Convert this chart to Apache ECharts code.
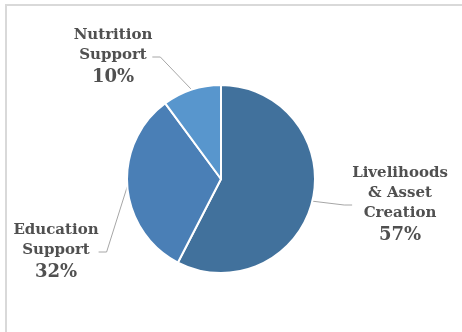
<!DOCTYPE html>
<html>
<head>
<meta charset="utf-8">
<script src="https://cdn.jsdelivr.net/npm/echarts@6/dist/echarts.min.js"></script>
<style>
  html, body { margin: 0; padding: 0; background: #fff; }
  #frame {
    position: absolute; left: 5px; top: 4px; width: 457px; height: 328px;
    border-left: 2px solid #d9d9d9; border-top: 2px solid #d9d9d9;
  }
  #chart { position: absolute; left: 0; top: 0; width: 462px; height: 332px; }
</style>
</head>
<body>
<div id="frame"></div>
<div id="chart"></div>
<script>
// data
var categories = ['Livelihoods\n& Asset\nCreation', 'Education\nSupport', 'Nutrition\nSupport'];
var shares = [57, 32, 10];
var sliceColors = ['#41719c', '#4a7fb6', '#5896cd'];

// where each label sits (centre of text block)
var labelSpots = [[400, 205], [56, 252], [113, 57]];

var myChart = echarts.init(document.getElementById('chart'));

var pieData = categories.map(function (c, i) {
  return { name: c, value: shares[i], itemStyle: { color: sliceColors[i] } };
});

var option = {
  animation: false,
  series: [
    {
      type: 'pie',
      center: [221, 179],
      radius: 94,
      startAngle: 90,
      clockwise: true,
      data: pieData,
      itemStyle: { borderColor: '#fff', borderWidth: 2 },
      label: {
        show: true,
        position: 'outside',
        width: 120,
        overflow: 'none',
        formatter: function (p) {
          return '{n|' + p.name + '}\n{p|' + p.value + '%}';
        },
        color: '#505050',
        fontFamily: 'DejaVu Serif',
        fontWeight: 'bold',
        align: 'center',
        rich: {
          n: { fontSize: 15, lineHeight: 20, fontFamily: 'DejaVu Serif', fontWeight: 'bold', color: '#505050' },
          p: { fontSize: 18, lineHeight: 23, fontFamily: 'DejaVu Serif', fontWeight: 'bold', color: '#505050' }
        }
      },
      labelLine: {
        show: true,
        length: 20,
        length2: 8,
        lineStyle: { color: '#a6a6a6', width: 1 }
      },
      labelLayout: function (params) {
        var s = labelSpots[params.dataIndex];
        return { x: s[0], y: s[1], align: 'center', verticalAlign: 'middle' };
      }
    }
  ]
};

myChart.setOption(option);
</script>
</body>
</html>
